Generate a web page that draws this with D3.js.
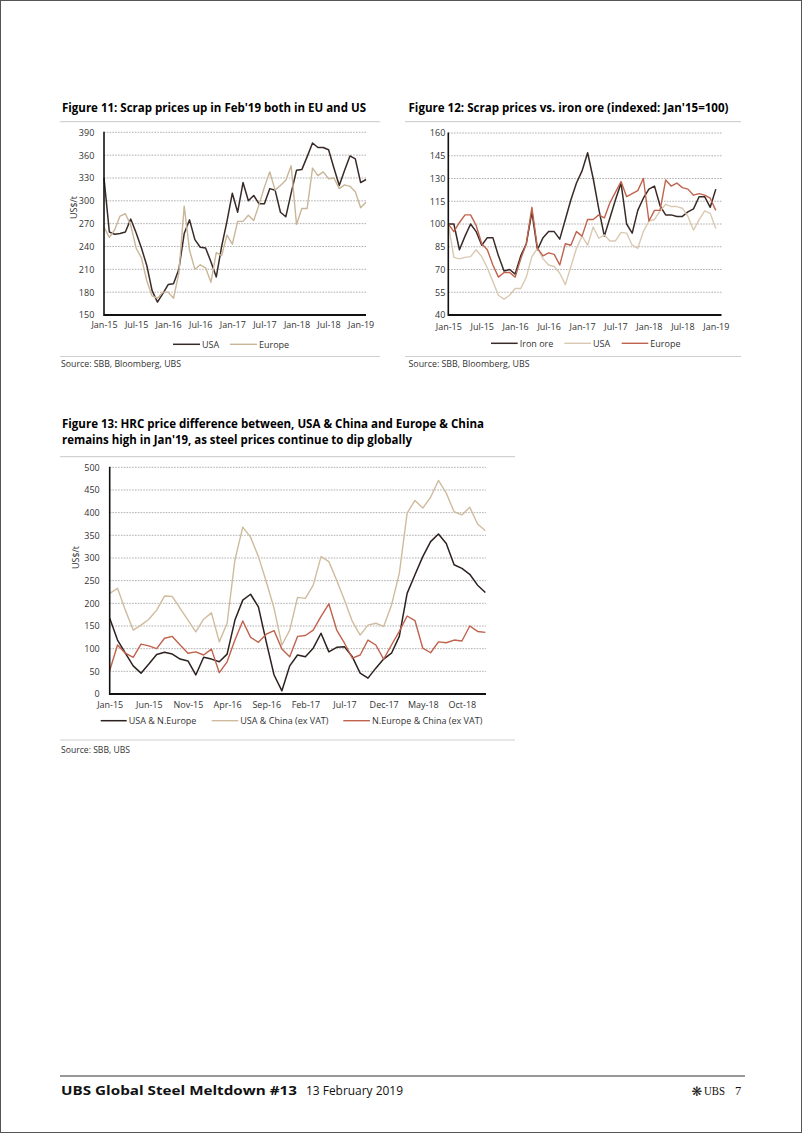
<!DOCTYPE html>
<html><head><meta charset="utf-8">
<script src="https://cdn.jsdelivr.net/npm/d3@7"></script>
<style>
html,body{margin:0;padding:0;background:#fff;}
svg{display:block;font-family:"Open Sans",sans-serif;}
</style></head><body>
<svg id="page" width="802" height="1133"></svg>
<script>
// ---------------- DATA ----------------
// Figure 11: Jan-15 .. Feb-19 (50 months), US$/t
const fig11Months = d3.utcMonth.range(new Date(Date.UTC(2015,0,1)), new Date(Date.UTC(2019,2,1)));
const fig11USA = [330,259,256,257,259,276,258,238,215,182,167,178,190,191,210,257,275,249,239,238,220,200,240,273,310,285,324,300,307,296,296,316,314,285,279,310,340,341,358,376,370,370,367,343,320,340,359,355,324,328];
const fig11Europe = [265,252,262,280,283,268,238,225,195,175,172,180,180,172,205,293,235,210,216,212,193,232,228,255,243,273,273,281,274,295,318,338,314,320,327,346,269,290,290,343,333,338,329,330,316,321,319,312,291,298];
const fig11YTicks = [150,180,210,240,270,300,330,360,390];
const fig11XLabels = ["Jan-15","Jul-15","Jan-16","Jul-16","Jan-17","Jul-17","Jan-18","Jul-18","Jan-19"];

// Figure 12: Jan-15 .. Jan-19 (49 months), index Jan'15=100
const fig12Months = d3.utcMonth.range(new Date(Date.UTC(2015,0,1)), new Date(Date.UTC(2019,1,1)));
const fig12IronOre = [100,100,83,92,100,95,86,91,91,79,69,70,67,79,87,108,83,91,95,95,90,103,116,127,135,147,130,110,92,104,116,127,100,94,109,117,123,125,112,106,106,105,105,108,110,118,118,111,123];
const fig12USA = [100,78,77,78,78.5,83,78.5,71,62,53,50.5,53,57.5,57.5,65,78.5,84,77,73,72,67.5,60,72,84,92,86,98,90.6,92.8,88.8,88.8,94.5,94,86,84,95,102,103,108.6,113,111.5,111.5,110.4,105,96,102.7,108.6,107,97];
const fig12Europe = [100,95,101,106,106,99,87,83,73,65,68,68,65,77,87,111,84,79,81,80,73,87,86,95,92,103,103,106,104,114,121,128,118,120,122,130,102,109,109,129,125,127,124,123,119,120,119,117,109];
const fig12YTicks = [40,55,70,85,100,115,130,145,160];
const fig12XLabels = ["Jan-15","Jul-15","Jan-16","Jul-16","Jan-17","Jul-17","Jan-18","Jul-18","Jan-19"];

// Figure 13: Jan-15 .. Jan-19 (49 months), US$/t
const fig13Months = d3.utcMonth.range(new Date(Date.UTC(2015,0,1)), new Date(Date.UTC(2019,1,1)));
const fig13USA_NEurope = [167,119,90,62,46,66,87,92,88,77,73,42,81,77,71,88,163,207,220,192,115,42,7,62,86,82,101,134,93,103,104,82,46,35,57,77,90,127,222,263,303,336,353,332,285,277,264,240,224];
const fig13USA_China = [222,233,185,141,152,165,185,216,215,189,163,137,165,179,115,156,296,368,346,303,248,189,108,141,213,211,240,303,292,251,207,160,130,152,156,149,196,266,399,427,410,434,471,443,402,395,412,375,360];
const fig13NEurope_China = [52,108,90,81,110,106,100,123,127,108,90,93,86,99,47,71,119,161,125,114,132,140,99,82,127,129,141,171,199,141,112,79,86,119,108,77,108,138,172,162,101,91,115,113,119,117,150,138,136];
const fig13YTicks = [0,50,100,150,200,250,300,350,400,450,500];
const fig13XLabels = ["Jan-15","Jun-15","Nov-15","Apr-16","Sep-16","Feb-17","Jul-17","Dec-17","May-18","Oct-18"];

// ---------------- DRAWING ----------------
const svg = d3.select("#page");
const TXT = "#333333";
const DARK = "#382a27";

svg.append("rect").attr("x",0.5).attr("y",0.5).attr("width",801).attr("height",1132)
  .attr("fill","none").attr("stroke","#555").attr("stroke-width",1);

function text(x, y, s, opts={}){
  const t = svg.append("text").attr("x",x).attr("y",y).text(s)
    .attr("font-size", opts.size||9).attr("fill", opts.fill||TXT)
    .attr("font-weight", opts.weight||"normal");
  if(opts.family) t.attr("font-family", opts.family);
  if(opts.anchor) t.attr("text-anchor", opts.anchor);
  if(opts.width){ t.attr("textLength", opts.width).attr("lengthAdjust","spacingAndGlyphs"); }
  return t;
}
function rule(x1,x2,y,color,w){
  svg.append("line").attr("x1",x1).attr("x2",x2).attr("y1",y).attr("y2",y)
    .attr("stroke",color).attr("stroke-width",w);
}

function lineChart(cfg){
  const g = svg.append("g");
  const x = d3.scalePoint().domain(cfg.months).range([cfg.x0, cfg.x1]);
  const y = d3.scaleLinear().domain([cfg.yTicks[0], cfg.yTicks[cfg.yTicks.length-1]]).range([cfg.yBottom, cfg.yTop]);
  // gridlines
  g.append("g").selectAll("line").data(cfg.yTicks.slice(1)).join("line")
    .attr("x1", cfg.x0).attr("x2", cfg.gridRight)
    .attr("y1", d=>y(d)).attr("y2", d=>y(d))
    .attr("stroke","#9c9c9c").attr("stroke-width",0.8).attr("stroke-dasharray","1.6,1.2");
  // y tick labels
  const ya = g.append("g").attr("transform",`translate(${cfg.x0},0)`)
    .call(d3.axisLeft(y).tickValues(cfg.yTicks).tickSize(0).tickPadding(cfg.yPad).tickFormat(d3.format("d")));
  ya.select(".domain").remove();
  ya.selectAll("text").attr("font-size",9).attr("fill",TXT).attr("font-family","Open Sans");
  // x tick labels
  const tickDates = cfg.months.filter((d,i)=> i % cfg.xStep === 0).slice(0, cfg.xLabels.length);
  const xa = g.append("g").attr("transform",`translate(0,${cfg.yBottom})`)
    .call(d3.axisBottom(x).tickValues(tickDates).tickSize(0).tickPadding(cfg.xPad)
      .tickFormat((d,i)=>cfg.xLabels[i]));
  xa.select(".domain").remove();
  xa.selectAll("text").attr("font-size",9).attr("fill",TXT).attr("font-family","Open Sans");
  // series
  cfg.series.forEach(s=>{
    g.append("path").datum(s.values)
      .attr("d", d3.line().x((d,i)=>x(cfg.months[i])).y(d=>y(d)))
      .attr("fill","none").attr("stroke",s.color).attr("stroke-width",s.width||1.4)
      .attr("stroke-linejoin","round");
  });
  // axes
  g.append("line").attr("x1",cfg.x0).attr("x2",cfg.x0).attr("y1",cfg.yTop-0.5).attr("y2",cfg.yBottom+1)
    .attr("stroke","#111").attr("stroke-width",1.6);
  g.append("line").attr("x1",cfg.x0).attr("x2",cfg.gridRight).attr("y1",cfg.yBottom).attr("y2",cfg.yBottom)
    .attr("stroke","#111").attr("stroke-width",1.8);
  // y title
  if(cfg.yTitle){
    g.append("text").attr("transform",`translate(${cfg.yTitle.x},${cfg.yTitle.y}) rotate(-90)`)
      .attr("text-anchor","middle").attr("dominant-baseline","central")
      .attr("font-size",9).attr("fill",TXT).text(cfg.yTitle.text);
  }
  // legend
  cfg.series.forEach(s=>{
    g.append("line").attr("x1",s.lx1).attr("x2",s.lx2).attr("y1",cfg.legendY).attr("y2",cfg.legendY)
      .attr("stroke",s.color).attr("stroke-width",s.width||1.4);
    g.append("text").attr("x",s.lx2+2).attr("y",cfg.legendY).attr("dominant-baseline","central")
      .attr("font-size",9).attr("fill",TXT).text(s.name);
  });
}

// ---------- Figure 11 ----------
text(62, 111.5, "Figure 11: Scrap prices up in Feb'19 both in EU and US", {size:11.5, weight:"bold", fill:"#000", width:304});
rule(60, 380, 121.7, "#c8c8c8", 1);
lineChart({
  months: fig11Months, x0:104, x1:366, gridRight:366, yTop:132.3, yBottom:315, yTicks:fig11YTicks,
  yPad:9.7, xPad:7, xStep:6, xLabels:fig11XLabels, legendY:344.3,
  yTitle:{x:73.5, y:207.5, text:"US$/t"},
  series:[
    {name:"USA", values:fig11USA, color:DARK, width:1.5, lx1:173, lx2:200},
    {name:"Europe", values:fig11Europe, color:"#c9b699", width:1.4, lx1:230, lx2:257}
  ]
});
rule(60, 380, 356.5, "#d0d0d0", 1);
text(61, 367, "Source:  SBB, Bloomberg, UBS", {size:8.5, width:120});

// ---------- Figure 12 ----------
text(408.5, 111.5, "Figure 12: Scrap prices vs. iron ore (indexed: Jan'15=100)", {size:11.5, weight:"bold", fill:"#000", width:320});
rule(405, 741, 121.7, "#c8c8c8", 1);
lineChart({
  months: fig12Months, x0:448.3, x1:715.8, gridRight:721.5, yTop:133, yBottom:315, yTicks:fig12YTicks,
  yPad:3, xPad:8.5, xStep:6, xLabels:fig12XLabels, legendY:343.3,
  series:[
    {name:"Iron ore", values:fig12IronOre, color:DARK, width:1.5, lx1:491, lx2:517.7},
    {name:"USA", values:fig12USA, color:"#dac9b1", width:1.4, lx1:564.3, lx2:591},
    {name:"Europe", values:fig12Europe, color:"#c0634d", width:1.4, lx1:621.7, lx2:648.3}
  ]
});
rule(405, 741, 356.5, "#d0d0d0", 1);
text(408.5, 367, "Source:  SBB, Bloomberg, UBS", {size:8.5, width:121});

// ---------- Figure 13 ----------
text(62, 428.3, "Figure 13: HRC price difference between, USA & China and Europe & China", {size:11.5, weight:"bold", fill:"#000", width:422});
text(62, 444.3, "remains high in Jan'19, as steel prices continue to dip globally", {size:11.5, weight:"bold", fill:"#000", width:350});
rule(60, 515, 456.7, "#c8c8c8", 1);
lineChart({
  months: fig13Months, x0:109.7, x1:485.4, gridRight:486, yTop:467.3, yBottom:694, yTicks:fig13YTicks,
  yPad:10, xPad:8, xStep:5, xLabels:fig13XLabels, legendY:720.7,
  yTitle:{x:75, y:557.5, text:"US$/t"},
  series:[
    {name:"USA & N.Europe", values:fig13USA_NEurope, color:"#2c211f", width:1.5, lx1:100.7, lx2:126.7},
    {name:"USA & China (ex VAT)", values:fig13USA_China, color:"#cfbc9e", width:1.4, lx1:211.7, lx2:238.3},
    {name:"N.Europe & China (ex VAT)", values:fig13NEurope_China, color:"#c1624d", width:1.4, lx1:343.3, lx2:370}
  ]
});
rule(60, 515, 740, "#d0d0d0", 1);
text(61, 752.5, "Source:  SBB, UBS", {size:8.5, width:69});

// ---------- Footer ----------
rule(60, 745, 1076, "#333", 1.2);
text(61, 1095, "UBS Global Steel Meltdown #13", {size:12, weight:"bold", fill:"#111", width:236});
text(306, 1095, "13 February 2019", {size:12, fill:"#111", width:97});
text(691.5, 1095.5, "❋", {size:13, fill:"#222", family:"DejaVu Sans"});
text(704, 1095, "UBS", {size:12, fill:"#111", family:"Liberation Serif", width:21});
text(735, 1095, "7", {size:12.5, fill:"#111", family:"Liberation Serif"});
</script>
</body></html>
